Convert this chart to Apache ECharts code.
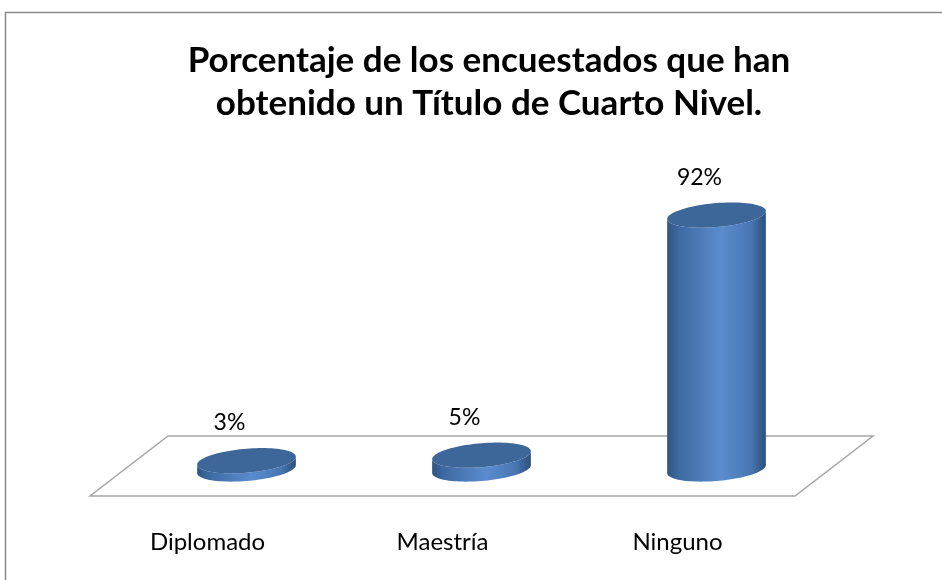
<!DOCTYPE html>
<html>
<head>
<meta charset="utf-8">
<script src="https://cdn.jsdelivr.net/npm/echarts@6/dist/echarts.min.js"></script>
<style>html,body{margin:0;padding:0;background:#fff}#c{width:942px;height:580px}</style>
</head>
<body>
<div id="c"></div>
<script>
const titleText = 'Porcentaje de los encuestados que han\nobtenido un Título de Cuarto Nivel.';
const categories = ['Diplomado', 'Maestría', 'Ninguno'];
const values = [3, 5, 92];
const valueLabels = ['3%', '5%', '92%'];

const FONT = 'Lato, "Liberation Sans", sans-serif';
const DEPTH_X = 78, DEPTH_Y = -60; // floor depth offset
const BASE_DX = 39, BASE_DY = -27; // bars at mid-depth
const SHEAR = 0.08;

function ellPt(cx, cy, rx, ry, t) {
  return [cx + rx * Math.cos(t), cy + ry * Math.sin(t) - SHEAR * rx * Math.cos(t)];
}

function renderFloor(params, api) {
  const bw = api.size([1, 0])[0];
  const a = api.coord([0, 0]);
  const b = api.coord([categories.length - 1, 0]);
  const x0 = a[0] - bw / 2, x1 = b[0] + bw / 2, y = a[1];
  return {
    type: 'polygon',
    shape: { points: [[x0, y], [x1, y], [x1 + DEPTH_X, y + DEPTH_Y], [x0 + DEPTH_X, y + DEPTH_Y]] },
    style: { fill: '#ffffff', stroke: '#a6a6a6', lineWidth: 1.5 },
    z2: 0
  };
}

function renderCyl(params, api) {
  const idx = api.value(0);
  const base = api.coord([idx, 0]);
  const top = api.coord([idx, api.value(1)]);
  const bw = api.size([1, 0])[0];
  const rx = bw * 0.21, ry = 12;
  const cx = base[0] + BASE_DX;
  const by = base[1] + BASE_DY;
  const ty = top[1] + BASE_DY;
  const N = 48;
  const side = [];
  side.push(ellPt(cx, ty, rx, ry, Math.PI));
  for (let i = 0; i <= N; i++) {
    const t = Math.PI - Math.PI * i / N;
    side.push(ellPt(cx, by, rx, ry, t));
  }
  for (let i = 0; i <= N; i++) {
    const t = Math.PI * i / N;
    side.push(ellPt(cx, ty, rx, ry, t));
  }
  const topPts = [];
  for (let i = 0; i < N * 2; i++) {
    topPts.push(ellPt(cx, ty, rx, ry, Math.PI * 2 * i / (N * 2)));
  }
  return {
    type: 'group',
    children: [
      {
        type: 'polygon',
        shape: { points: side },
        style: {
          fill: new echarts.graphic.LinearGradient(0, 0, 1, 0, [
            { offset: 0, color: '#2f5583' },
            { offset: 0.12, color: '#3e6aa2' },
            { offset: 0.55, color: '#5a8cce' },
            { offset: 0.85, color: '#4776b2' },
            { offset: 1, color: '#2d507b' }
          ])
        }
      },
      {
        type: 'polygon',
        shape: { points: topPts },
        style: { fill: '#3d6699' }
      },
      {
        type: 'text',
        x: cx - 17,
        y: ty - ry - 26,
        style: {
          text: valueLabels[params.dataIndex],
          font: '23px ' + FONT,
          fill: '#000',
          align: 'center',
          verticalAlign: 'middle'
        }
      }
    ]
  };
}

const chart = echarts.init(document.getElementById('c'));
chart.setOption({
  animation: false,
  backgroundColor: '#ffffff',
  title: {
    text: titleText,
    left: 484,
    top: 34,
    textAlign: 'center',
    textStyle: { fontFamily: FONT, fontSize: 35, fontWeight: 'bold', color: '#000', lineHeight: 43 }
  },
  graphic: [{
    type: 'rect',
    shape: { x: 5.5, y: 12.5, width: 1000, height: 700 },
    style: { fill: 'none', stroke: '#8a8a8a', lineWidth: 1.5 },
    z: -10
  }],
  grid: { left: 90, right: 147, bottom: 84, top: 220 },
  xAxis: {
    type: 'category',
    data: categories,
    axisLine: { show: false },
    axisTick: { show: false },
    splitLine: { show: false },
    axisLabel: { fontFamily: FONT, fontSize: 24, color: '#000', margin: 34 }
  },
  yAxis: { type: 'value', min: 0, max: 100, show: false, splitLine: { show: false } },
  series: [
    { type: 'custom', renderItem: renderFloor, data: [[0]], z: 1, silent: true },
    { type: 'custom', renderItem: renderCyl, data: values.map((v, i) => [i, v]), z: 2 }
  ]
});
</script>
</body>
</html>
